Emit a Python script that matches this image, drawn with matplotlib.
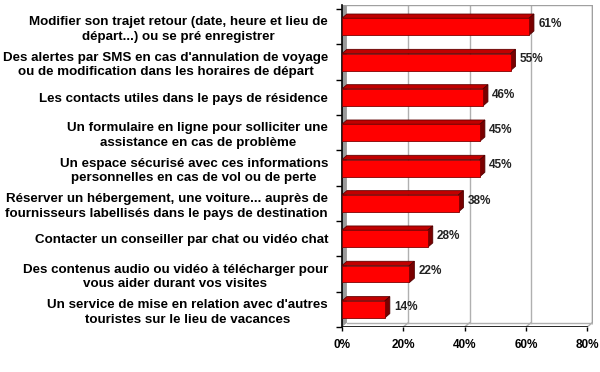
import matplotlib.pyplot as plt
from matplotlib.patches import Polygon, Rectangle

plt.rcParams['font.family'] = ['Liberation Sans', 'DejaVu Sans']

labels = [
    "Modifier son trajet retour (date, heure et lieu de\ndépart...) ou se pré enregistrer",
    "Des alertes par SMS en cas d'annulation de voyage\nou de modification dans les horaires de départ",
    "Les contacts utiles dans le pays de résidence",
    "Un formulaire en ligne pour solliciter une\nassistance en cas de problème",
    "Un espace sécurisé avec ces informations\npersonnelles en cas de vol ou de perte",
    "Réserver un hébergement, une voiture... auprès de\nfournisseurs labellisés dans le pays de destination",
    "Contacter un conseiller par chat ou vidéo chat",
    "Des contenus audio ou vidéo à télécharger pour\nvous aider durant vos visites",
    "Un service de mise en relation avec d'autres\ntouristes sur le lieu de vacances",
]
values = [0.61, 0.55, 0.46, 0.45, 0.45, 0.38, 0.28, 0.22, 0.14]
xticks = [0, 0.2, 0.4, 0.6, 0.8]

dx, dy = 0.016, 0.12   # 3D depth
h = 0.24               # half bar height
n = len(values)

fig = plt.figure(figsize=(6, 3.72), dpi=100)
ax = fig.add_axes([0.57, 0.121, 0.418, 0.866])
xmax = 0.8 + dx
ytop = n - 0.5 + dy
ax.set_xlim(0, xmax + 0.002)
ax.set_ylim(-0.5, ytop)

# back wall grid and frame
for t in xticks[1:]:
    ax.plot([t + dx, t + dx], [-0.5 + dy, ytop], color='#b0b0b0', lw=1, zorder=1)
    ax.plot([t, t + dx], [-0.5, -0.5 + dy], color='#b0b0b0', lw=1, zorder=1)
ax.plot([dx, xmax, xmax], [ytop - 0.01, ytop - 0.01, -0.5 + dy], color='#a0a0a0', lw=1, zorder=1)
ax.plot([dx, xmax], [-0.5 + dy, -0.5 + dy], color='#b0b0b0', lw=1, zorder=1)

# left wall
ax.add_patch(Polygon([(0, -0.5), (dx, -0.5 + dy), (dx, ytop), (0, ytop)],
                     facecolor='#9a9a9a', edgecolor='none', zorder=2))
ax.plot([0, 0.8], [-0.5, -0.5], color='black', lw=1.2, zorder=5)

for i, v in enumerate(values):
    y = n - 1 - i
    ax.add_patch(Polygon([(0, y + h), (v, y + h), (v + dx, y + h + dy), (dx, y + h + dy)],
                         facecolor='#c00000', edgecolor='#600000', lw=0.6, zorder=3))
    ax.add_patch(Polygon([(v, y - h), (v + dx, y - h + dy), (v + dx, y + h + dy), (v, y + h)],
                         facecolor='#7a0000', edgecolor='#500000', lw=0.6, zorder=3))
    ax.add_patch(Rectangle((0, y - h), v, 2 * h, facecolor='#ff0000',
                           edgecolor='#800000', lw=0.6, zorder=4))
    ax.text(v + dx + 0.014, y + 0.08, f"{round(v * 100)}%", fontsize=8.5,
            fontweight='bold', va='center', ha='left', color='#222222', zorder=6)

ax.set_yticks([n - 1 - i for i in range(n)])
ax.set_yticklabels(labels, fontsize=9.6, fontweight='bold', multialignment='center',
                   linespacing=1.3)
ax.set_yticks([k - 0.5 for k in range(n + 1)], minor=True)
ax.tick_params(axis='y', which='major', length=0, pad=10)
ax.tick_params(axis='y', which='minor', length=4, width=1)

ax.set_xticks(xticks)
ax.set_xticklabels([f"{round(t * 100)}%" for t in xticks], fontsize=8.5, fontweight='bold')
ax.tick_params(axis='x', length=3, width=1, pad=6)

for s in ['top', 'right', 'bottom']:
    ax.spines[s].set_visible(False)
ax.spines['left'].set_bounds(-0.5, ytop)
ax.spines['left'].set_linewidth(1.2)

fig.savefig('out.png', dpi=100)
